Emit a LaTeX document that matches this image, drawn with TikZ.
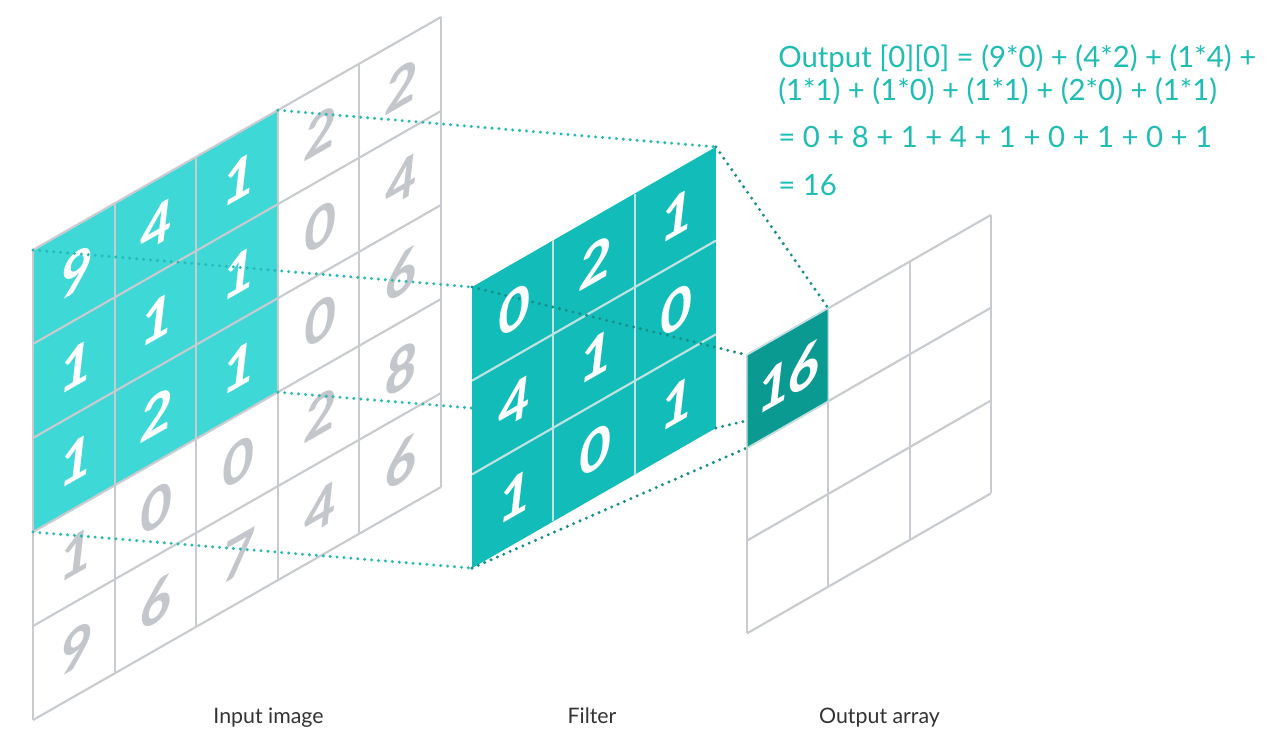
\documentclass[tikz,border=0pt]{standalone}
\usepackage{fontspec}
\setmainfont{Lato}
\newfontfamily\digitfont{Carlito}
\definecolor{inteal}{HTML}{3ED8D6}
\definecolor{fteal}{HTML}{12BDB9}
\definecolor{oteal}{HTML}{0A9A92}
\definecolor{gridgray}{HTML}{C8CBCF}
\definecolor{fline}{HTML}{C2E2E2}
\definecolor{digitgray}{HTML}{C3C6CB}
\definecolor{dotA}{HTML}{27BAB5}
\definecolor{dotB}{HTML}{178F88}
\definecolor{formula}{HTML}{1FBDB4}
\definecolor{lbl}{HTML}{333333}
\begin{document}
\begin{tikzpicture}[x=0.75pt,y=-0.75pt,
  gridline/.style={draw=gridgray,line width=1.6pt},
  filterline/.style={draw=fline,line width=1.6pt},
  digit/.style={font=\digitfont\bfseries\itshape\fontsize{46}{46}\selectfont,yslant=0.571,inner sep=0pt,anchor=center},
  dotsA/.style={draw=dotA,line width=2.5pt,line cap=round,dash pattern=on 0pt off 5.2pt},
  dotsB/.style={draw=dotB,line width=2.5pt,line cap=round,dash pattern=on 0pt off 5.2pt},
  formulatext/.style={font=\fontsize{22}{26}\selectfont,text=formula,anchor=base west,inner sep=0pt},
  caption/.style={font=\fontsize{16}{19}\selectfont,text=lbl,anchor=base,inner sep=0pt}]
\fill[white] (0,0) rectangle (1280,744);
\useasboundingbox (0,0) rectangle (1280,744);

% ---------- input image ----------
\begin{scope}[shift={(33,250)},x={(61.2pt,34.95pt)},y={(0pt,-70.5pt)}]
  \fill[inteal] (0,0) -- (3,0) -- (3,3) -- (0,3) -- cycle;
  \foreach \i in {0,...,5} \draw[gridline] (\i,0) -- (\i,5);
  \foreach \j in {0,...,5} \draw[gridline] (0,\j) -- (5,\j);
  \foreach \row [count=\r from 0] in {{9,4,1,2,2},{1,1,1,0,4},{1,2,1,0,6},{1,0,0,2,8},{9,6,7,4,6}}{
    \foreach \d [count=\c from 0] in \row {
      \pgfmathsetmacro{\col}{(\r<3 && \c<3) ? 1 : 0}
      \ifdim\col pt>0.5pt
        \node[digit,text=white] (in-\c-\r) at (\c+0.5,\r+0.5) {\d};
      \else
        \node[digit,text=digitgray] (in-\c-\r) at (\c+0.5,\r+0.5) {\d};
      \fi
    }
  }
  \coordinate (inA) at (0,0);
  \coordinate (inB) at (3,0);
  \coordinate (inC) at (3,3);
  \coordinate (inD) at (0,3);
\end{scope}

% ---------- corner coordinates of filter and output ----------
\begin{scope}[shift={(472,287)},x={(60.975pt,35.025pt)},y={(0pt,-70.275pt)}]
  \coordinate (fA) at (0,0);
  \coordinate (fB) at (3,0);
  \coordinate (fC) at (3,3);
  \coordinate (fD) at (0,3);
\end{scope}
\begin{scope}[shift={(747,355)},x={(60.975pt,35.025pt)},y={(0pt,-69.6pt)}]
  \coordinate (oA) at (0,0);
  \coordinate (oB) at (1,0);
  \coordinate (oC) at (1,1);
  \coordinate (oD) at (0,1);
\end{scope}

% ---------- input -> filter ----------
\draw[dotsA] (inA) -- (fA);
\draw[dotsA] (inB) -- (fB);
\draw[dotsA] (inC) -- (fC);
\draw[dotsA] (inD) -- (fD);

% ---------- filter ----------
\begin{scope}[shift={(472,287)},x={(60.975pt,35.025pt)},y={(0pt,-70.275pt)}]
  \fill[fteal] (0,0) -- (3,0) -- (3,3) -- (0,3) -- cycle;
  \foreach \i in {1,2} \draw[filterline] (\i,0) -- (\i,3);
  \foreach \j in {1,2} \draw[filterline] (0,\j) -- (3,\j);
  \draw[dotsB] (fA) -- (oA);
  \foreach \row [count=\r from 0] in {{0,2,1},{4,1,0},{1,0,1}}{
    \foreach \d [count=\c from 0] in \row {
      \node[digit,text=white] (f-\c-\r) at (\c+0.5,\r+0.5) {\d};
    }
  }
\end{scope}

% ---------- filter -> output ----------
\draw[dotsB] (fB) -- (oB);
\draw[dotsB] (fC) -- (oC);
\draw[dotsB] (fD) -- (oD);

% ---------- output array ----------
\begin{scope}[shift={(747,355)},x={(60.975pt,35.025pt)},y={(0pt,-69.6pt)}]
  \foreach \i in {0,...,3} \draw[gridline] (\i,0) -- (\i,3);
  \foreach \j in {0,...,3} \draw[gridline] (0,\j) -- (3,\j);
  \filldraw[fill=oteal,draw=fline,line width=1pt] (0,0) -- (1,0) -- (1,1) -- (0,1) -- cycle;
  \node[digit,text=white] (out-0-0) at (0.5,0.5) {16};
\end{scope}

% ---------- formula ----------
\node[formulatext] (eq1) at (778,67) {Output [0][0] = (9*0) + (4*2) + (1*4) +};
\node[formulatext] (eq2) at (778,100) {(1*1) + (1*0) + (1*1) + (2*0) + (1*1)};
\node[formulatext] (eq3) at (778,147) {= 0 + 8 + 1 + 4 + 1 + 0 + 1 + 0 + 1};
\node[formulatext] (eq4) at (778,195) {= 16};

% ---------- captions ----------
\node[caption] (capIn) at (268.5,723) {Input image};
\node[caption] (capF) at (592,723) {Filter};
\node[caption] (capO) at (879.5,723) {Output array};
\end{tikzpicture}
\end{document}
